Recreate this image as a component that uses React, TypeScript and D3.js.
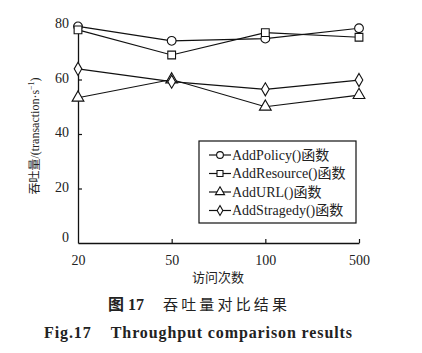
import { useEffect, useRef } from "react";
import * as d3 from "d3";

const visits = ["20", "50", "100", "500"];
const yTicks = [0, 20, 40, 60, 80];

const addPolicy = [79.5, 74.2, 75.0, 78.8];
const addResource = [78.2, 69.0, 77.2, 75.5];
const addUrl = [53.3, 60.0, 50.0, 54.3];
const addStragedy = [63.9, 59.2, 56.4, 59.8];

const seriesNames = ["AddPolicy()函数", "AddResource()函数", "AddURL()函数", "AddStragedy()函数"];
const seriesSymbols = [d3.symbolCircle, d3.symbolSquare, d3.symbolTriangle, d3.symbolDiamond];

const FONT = "'Liberation Serif', 'Noto Sans CJK SC', serif";
const INK = "#222";

export default function App() {
  const svgRef = useRef<SVGSVGElement>(null);

  useEffect(() => {
    if (!svgRef.current) return;
    const svg = d3.select(svgRef.current);
    svg.selectAll("*").remove();

    const width = 422;
    const height = 353;
    const margin = { top: 25, left: 78, right: 63, bottom: 110 };
    const chartW = width - margin.left - margin.right;
    const chartH = height - margin.top - margin.bottom;

    svg.append("rect").attr("width", width).attr("height", height).attr("fill", "#fff");

    const x = d3.scalePoint<string>().domain(visits).range([0, chartW]).padding(0);
    const y = d3.scaleLinear().domain([0, 80]).range([chartH, 0]);

    const g = svg.append("g").attr("transform", `translate(${margin.left},${margin.top})`);

    // y axis, ticks pointing inward
    g.append("g")
      .call(d3.axisLeft(y).tickValues(yTicks).tickSize(-4).tickPadding(9).tickSizeOuter(0))
      .call((a) => a.select(".domain").attr("stroke", "#111").attr("stroke-width", 1.3))
      .call((a) => a.selectAll(".tick line").attr("stroke", "#111").attr("stroke-width", 1.2))
      .call((a) =>
        a.selectAll(".tick text")
          .attr("font-family", FONT)
          .attr("font-size", "14px")
          .attr("fill", INK)
          .attr("dy", (d) => (d === 0 ? "-0.1em" : "0.2em")),
      )
      .call((a) => a.selectAll(".tick").filter((d) => d === 0).select("line").remove());

    // x axis, ticks pointing inward
    g.append("g")
      .attr("transform", `translate(0,${chartH})`)
      .call(d3.axisBottom(x).tickSize(-4).tickPadding(12).tickSizeOuter(0))
      .call((a) => a.select(".domain").attr("stroke", "#111").attr("stroke-width", 1.3))
      .call((a) => a.selectAll(".tick line").attr("stroke", "#111").attr("stroke-width", 1.2))
      .call((a) => a.selectAll(".tick").filter((d) => d === "20").select("line").remove())
      .call((a) =>
        a.selectAll(".tick text").attr("font-family", FONT).attr("font-size", "14px").attr("fill", INK),
      );

    const allSeries = [addPolicy, addResource, addUrl, addStragedy];
    const line = d3
      .line<number>()
      .x((_, i) => x(visits[i])!)
      .y((d) => y(d));

    allSeries.forEach((vals, si) => {
      g.append("path")
        .datum(vals)
        .attr("d", line)
        .attr("fill", "none")
        .attr("stroke", "#111")
        .attr("stroke-width", 1.2);
      g.selectAll(`.m${si}`)
        .data(vals)
        .join("path")
        .attr("class", `m${si}`)
        .attr("transform", (d, i) => `translate(${x(visits[i])},${y(d)})`)
        .attr("d", d3.symbol().type(seriesSymbols[si]).size(si === 3 ? 50 : 60)())
        .attr("fill", "#fff")
        .attr("stroke", "#111")
        .attr("stroke-width", 1.1);
    });

    // legend
    const lg = svg.append("g").attr("transform", "translate(199,141)");
    lg.append("rect")
      .attr("width", 157)
      .attr("height", 82)
      .attr("fill", "#fff")
      .attr("stroke", "#111")
      .attr("stroke-width", 1.2);
    seriesNames.forEach((name, i) => {
      const cy = 14 + i * 18.5;
      lg.append("line")
        .attr("x1", 10)
        .attr("x2", 32)
        .attr("y1", cy)
        .attr("y2", cy)
        .attr("stroke", "#111")
        .attr("stroke-width", 1.2);
      lg.append("path")
        .attr("transform", `translate(21,${cy})`)
        .attr("d", d3.symbol().type(seriesSymbols[i]).size(i === 3 ? 28 : 36)())
        .attr("fill", "#fff")
        .attr("stroke", "#111")
        .attr("stroke-width", 1.1);
      lg.append("text")
        .attr("x", 33)
        .attr("y", cy)
        .attr("dy", "0.35em")
        .attr("font-family", FONT)
        .attr("font-size", "14px")
        .attr("fill", INK)
        .text(name);
    });

    // axis titles
    const yLab = svg
      .append("text")
      .attr("transform", `translate(35,${margin.top + chartH / 2 + 2}) rotate(-90)`)
      .attr("text-anchor", "middle")
      .attr("dy", "0.35em")
      .attr("font-family", FONT)
      .attr("font-size", "12px")
      .attr("fill", INK);
    yLab.append("tspan").text("吞吐量/(transaction·s");
    yLab.append("tspan").attr("font-size", "8px").attr("dy", "-5").text("−1");
    yLab.append("tspan").attr("dy", "5").text(")");

    svg.append("text")
      .attr("x", 218)
      .attr("y", 282)
      .attr("text-anchor", "middle")
      .attr("font-family", FONT)
      .attr("font-size", "13px")
      .attr("fill", INK)
      .text("访问次数");

    // captions
    svg.append("text")
      .attr("x", 108)
      .attr("y", 310)
      .attr("font-family", FONT)
      .attr("font-size", "16px")
      .attr("font-weight", "bold")
      .attr("fill", INK)
      .attr("textLength", 36)
      .attr("lengthAdjust", "spacing")
      .text("图 17");

    svg.append("text")
      .attr("x", 163)
      .attr("y", 310)
      .attr("font-family", FONT)
      .attr("font-size", "15px")
      .attr("fill", INK)
      .attr("textLength", 124)
      .attr("lengthAdjust", "spacing")
      .text("吞吐量对比结果");

    svg.append("text")
      .attr("x", 44)
      .attr("y", 338)
      .attr("font-family", FONT)
      .attr("font-size", "16px")
      .attr("font-weight", "bold")
      .attr("fill", INK)
      .attr("textLength", 308)
      .attr("lengthAdjust", "spacing")
      .attr("xml:space", "preserve")
      .text("Fig.17    Throughput comparison results");
  }, []);

  return (
    <svg
      ref={svgRef}
      width={422}
      height={353}
      style={{ position: "absolute", left: 0, top: 0, display: "block" }}
    />
  );
}
